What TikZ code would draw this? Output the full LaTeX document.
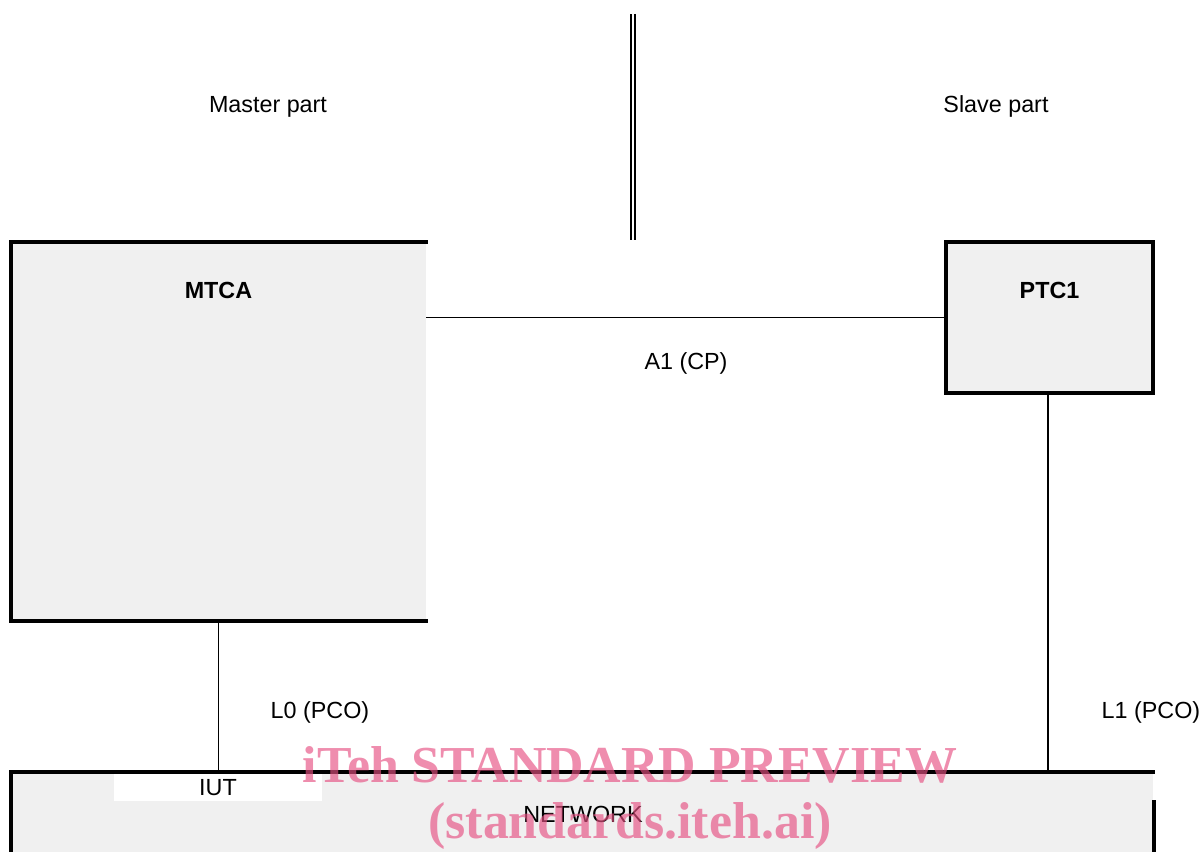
\documentclass[tikz,border=0pt]{standalone}
\usepackage{fontspec}
\setmainfont{Liberation Sans}
\newfontfamily\wmfont{Liberation Serif}
\usetikzlibrary{positioning,calc,fit}
\definecolor{wmpink}{RGB}{230,80,130}
\tikzset{
  boxline/.style={line width=2.8pt, draw=black, line cap=rect},
  linkline/.style={line width=1.3pt, draw=black},
  boxfill/.style={fill=gray!12, draw=none, inner sep=0pt},
  partlbl/.style={font=\fontsize{17.5}{20}\selectfont, inner sep=0pt, text height=12.6pt, text depth=0pt},
}

\begin{document}
\begin{tikzpicture}[
  x=0.75pt, y=-0.75pt,
  boxtitle/.style={partlbl, font=\fontsize{17.5}{20}\selectfont\bfseries},
  wmtext/.style={text=wmpink, text opacity=0.65, inner sep=0pt, anchor=base,
    font=\fontsize{38.9}{41}\selectfont\wmfont\bfseries},
]
  \useasboundingbox (0,0) rectangle (1204,852);

  % master / slave split
  \node[partlbl] (master) at (268,104) {Master part};
  \node[partlbl] (slave) at (996,104) {Slave part};
  \coordinate (divtop) at (633,14);
  \coordinate (divbot) at (633,240);
  \draw[line width=1.5pt, double distance=1.3pt] (divtop) -- (divbot);

  % MTCA
  \coordinate (mtca-nw) at (11,242);
  \coordinate (mtca-se) at (426,621);
  \node[boxfill, fit=(mtca-nw)(mtca-se)] (mtca) {};
  \draw[boxline] (mtca.north east) -- (mtca.north west) -- (mtca.south west) -- (mtca.south east);
  \node[boxtitle] (mtcat) at ($(mtca.north)+(0,48)$) {MTCA};

  % PTC1
  \coordinate (ptc-nw) at (946,242);
  \coordinate (ptc-se) at (1153,393);
  \node[boxfill, fit=(ptc-nw)(ptc-se)] (ptc) {};
  \draw[boxline] (ptc.north west) rectangle (ptc.south east);
  \node[boxtitle] (ptct) at ($(ptc.north)+(0,48)$) {PTC1};

  % NETWORK
  \coordinate (net-nw) at (11,772);
  \coordinate (net-se) at (1153,853);
  \node[boxfill, fit=(net-nw)(net-se)] (net) {};
  \draw[boxline] (net.south west) -- (net.north west) -- (net.north east);
  \draw[boxline] ($(net.north east)+(1,30)$) -- ($(net.south east)+(1,0)$);
  \node[fill=white, inner sep=0pt, minimum width=156pt, minimum height=20pt] (iutbg) at (218,787.5) {};
  \node[partlbl] (iut) at (iutbg.center) {IUT};
  \node[partlbl] (nett) at (583,814) {NETWORK};

  % links
  \draw[linkline] (ptc.west) -- (ptc.west -| mtca.east);
  \node[partlbl] (a1) at (686,361) {A1 (CP)};
  \draw[linkline] (mtca.south) -- (mtca.south |- net.north);
  \node[partlbl] (l0) at (320,710) {L0 (PCO)};
  \draw[linkline] (ptc.south) ++(-1.5,0) coordinate (l1top) -- (l1top |- net.north);
  \node[partlbl] (l1) at (1151,710) {L1 (PCO)};

  % watermark
  \node[wmtext] (wm1) at (630,782) {iTeh STANDARD PREVIEW};
  \node[wmtext] (wm2) at (630,838) {(standards.iteh.ai)};
\end{tikzpicture}
\end{document}
